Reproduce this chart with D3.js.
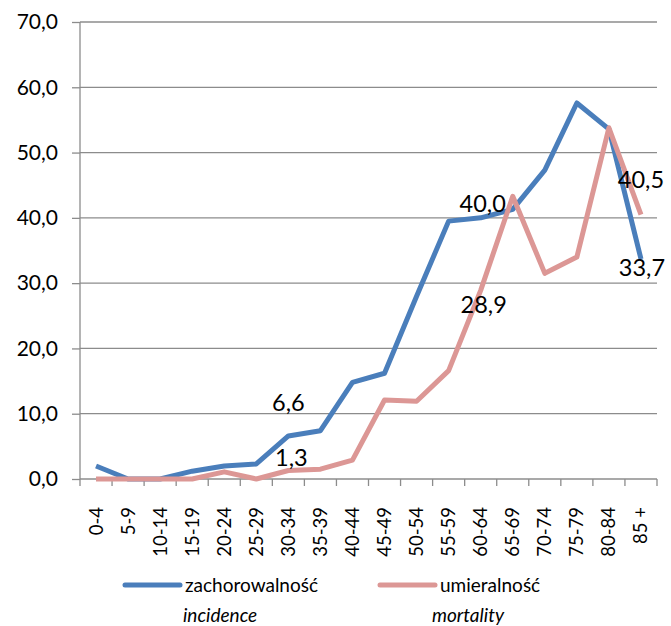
<!DOCTYPE html>
<html><head><meta charset="utf-8">
<script src="https://cdn.jsdelivr.net/npm/d3@7"></script>
<style>body{margin:0;background:#fff}svg{display:block;font-family:Lato,"Open Sans",sans-serif}</style>
</head><body><svg id="c" width="671" height="626"></svg>
<script>
const categories = ["0-4","5-9","10-14","15-19","20-24","25-29","30-34","35-39","40-44","45-49","50-54","55-59","60-64","65-69","70-74","75-79","80-84","85 +"];
const incidence = [2.0,0.0,0.0,1.2,2.0,2.3,6.6,7.4,14.8,16.2,28.0,39.5,40.0,41.3,47.3,57.6,53.6,33.7];
const mortality = [0.0,0.0,0.0,0.0,1.1,0.0,1.3,1.5,2.9,12.1,11.9,16.6,28.9,43.3,31.5,34.0,53.8,40.5];
const yTicks = [0,10,20,30,40,50,60,70];
const seriesNames = ["zachorowalność","umieralność"];
const seriesNamesEn = ["incidence","mortality"];
const colors = ["#4a7ebb","#dc9795"];
// which points carry a data label: [seriesIndex, categoryIndex]
const labelled = [[0,6],[0,12],[0,17],[1,6],[1,12],[1,17]];
const labelOffsets = {"0-6":[0,-31],"0-12":[2,-12],"0-17":[1,11],"1-6":[3,-10],"1-12":[3,17],"1-17":[0,-33]};

const svg = d3.select("#c");
const L = 80, R = 657, T = 22, B = 479;
const x = d3.scaleBand().domain(categories).range([L, R]);
const y = d3.scaleLinear().domain([0,70]).range([B, T]);
const fmt = v => d3.format(".1f")(v).replace(".", ",");

// gridlines
svg.append("g").selectAll("line").data(yTicks.filter(d=>d>0)).join("line")
  .attr("x1", L).attr("x2", R).attr("y1", d=>y(d)).attr("y2", d=>y(d))
  .attr("stroke", "#8c8c8c").attr("stroke-width", 1.3);

// y axis
const yAxis = d3.axisLeft(y).tickValues(yTicks).tickFormat(fmt).tickSize(8).tickPadding(14);
const gy = svg.append("g").attr("transform", `translate(${L},0)`).call(yAxis);
gy.select(".domain").attr("stroke", "#8c8c8c").attr("stroke-width", 1.3).attr("d", `M0,${T}V${B}`);
gy.selectAll(".tick line").attr("stroke", "#8c8c8c").attr("stroke-width", 1.3);
gy.selectAll(".tick text").attr("font-size", 21).attr("fill", "#000").attr("font-family", "Lato");

// x axis
const xAxis = d3.axisBottom(x).tickSize(0).tickPadding(0);
const gx = svg.append("g").attr("transform", `translate(0,${B})`).call(xAxis);
gx.select(".domain").attr("stroke", "#8c8c8c").attr("stroke-width", 1.3).attr("d", `M${L},0H${R}`);
gx.selectAll(".tick text")
  .attr("font-size", 18.5).attr("fill", "#000").attr("font-family", "Lato")
  .attr("text-anchor", "end").attr("dy", "0.35em")
  .attr("transform", "translate(0,28) rotate(-90)").attr("x", 0).attr("y", 0);
// tick marks between categories
const bounds = categories.map(c => x(c)).concat([R]);
svg.append("g").selectAll("line").data(bounds).join("line")
  .attr("x1", d=>d).attr("x2", d=>d).attr("y1", B).attr("y2", B+7)
  .attr("stroke", "#8c8c8c").attr("stroke-width", 1.3);

// lines
const line = d3.line().x((d,i)=>x(categories[i]) + x.bandwidth()/2).y(d=>y(d));
[incidence, mortality].forEach((s, k) => {
  svg.append("path").datum(s).attr("d", line).attr("fill", "none")
    .attr("stroke", colors[k]).attr("stroke-width", 5).attr("stroke-linejoin", "round");
});

// data labels
const allSeries = [incidence, mortality];
svg.append("g").selectAll("text").data(labelled).join("text")
  .attr("x", d => x(categories[d[1]]) + x.bandwidth()/2 + labelOffsets[d[0]+"-"+d[1]][0])
  .attr("y", d => y(allSeries[d[0]][d[1]]) + labelOffsets[d[0]+"-"+d[1]][1])
  .attr("text-anchor", "middle").attr("dominant-baseline", "middle")
  .attr("font-size", 23.5).attr("font-family", "Lato").attr("fill", "#000")
  .text(d => fmt(allSeries[d[0]][d[1]]));

// legend
const legX = [125, 380];
seriesNames.forEach((n, k) => {
  const g = svg.append("g").attr("transform", `translate(${legX[k]},585)`);
  g.append("line").attr("x1", 0).attr("x2", 55).attr("y1", 0).attr("y2", 0)
    .attr("stroke", colors[k]).attr("stroke-width", 5).attr("stroke-linecap", "round");
  g.append("text").attr("x", 60).attr("y", 7).attr("font-size", 19).attr("font-family", "Lato").text(n);
  g.append("text").attr("x", 58 - (k ? 6 : 0)).attr("y", 37).attr("font-size", 19).attr("font-family", "Lato")
    .attr("font-style", "italic").text(seriesNamesEn[k]);
});
</script></body></html>
